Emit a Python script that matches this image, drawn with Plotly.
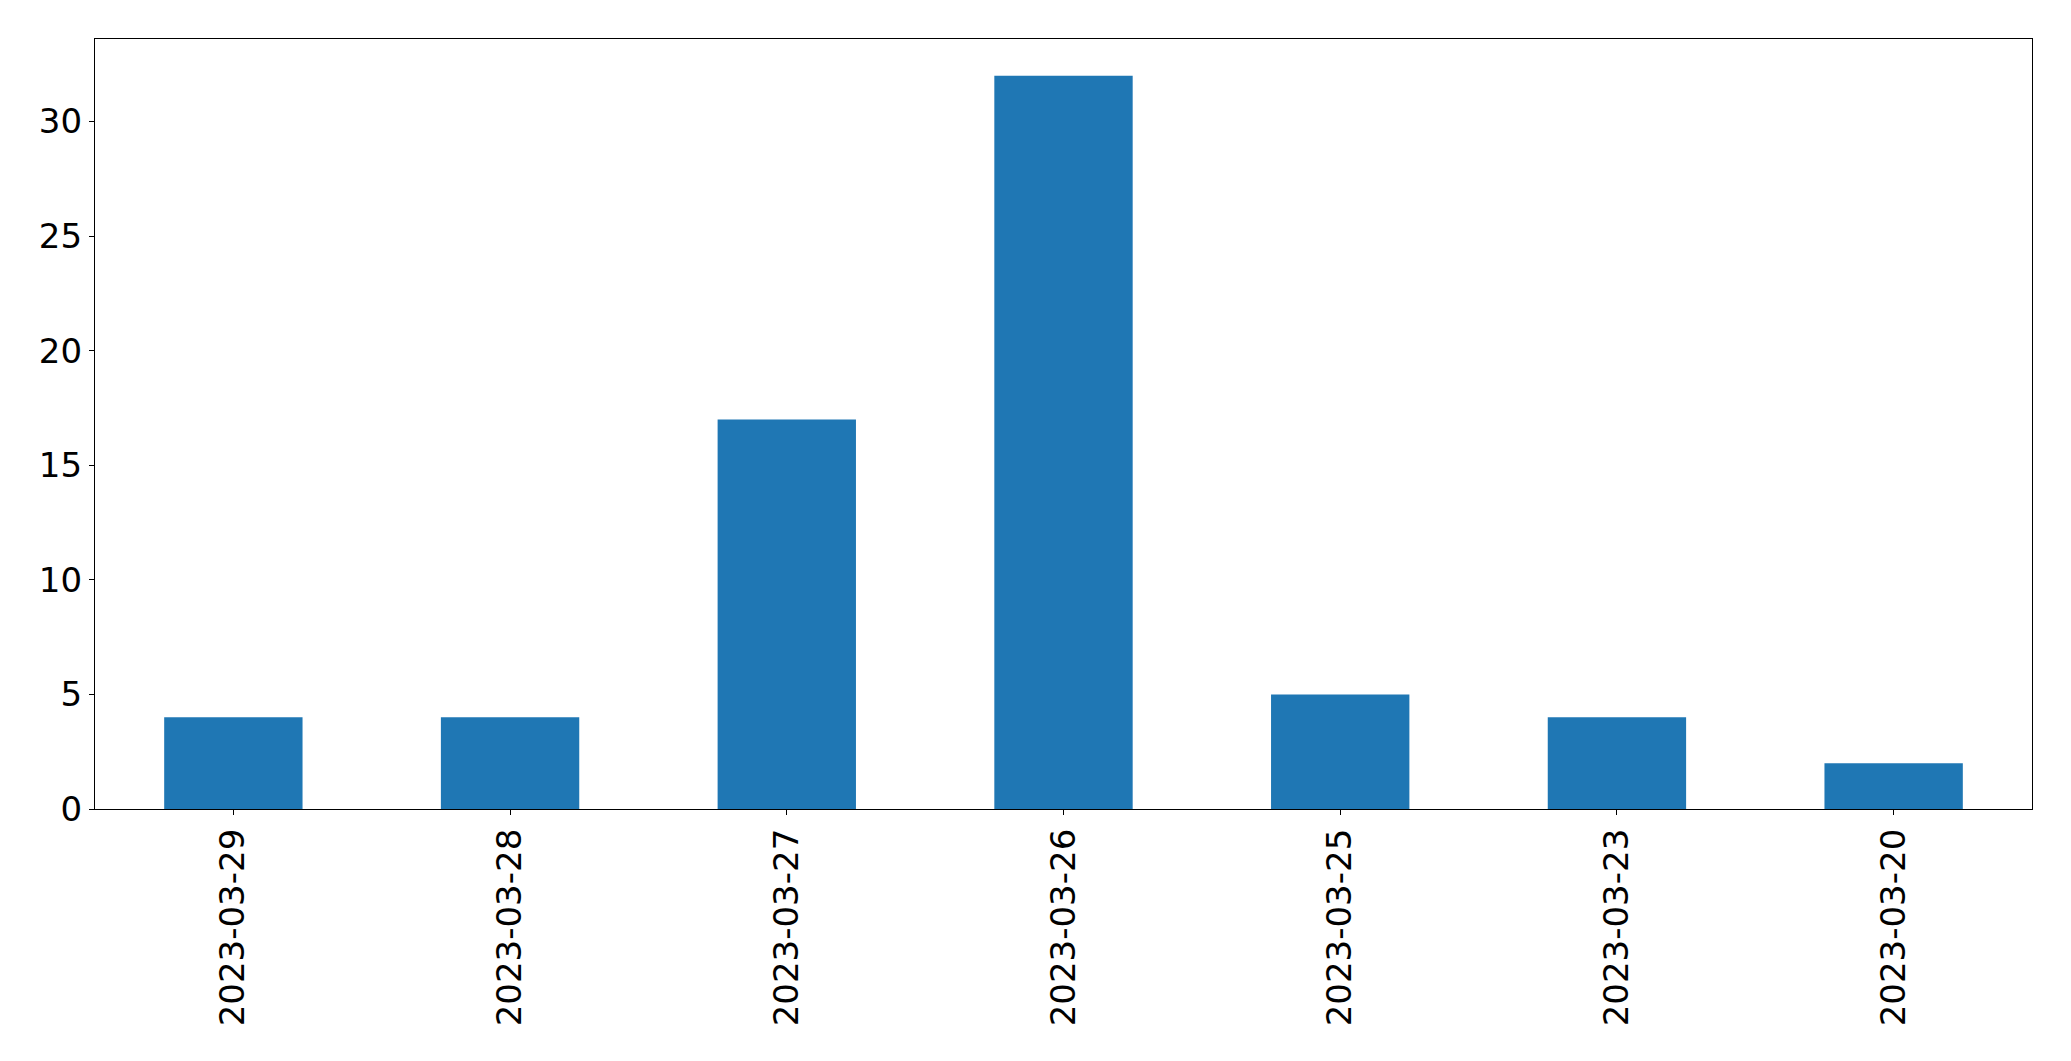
import plotly.graph_objects as go

categories = ["2023-03-29", "2023-03-28", "2023-03-27", "2023-03-26", "2023-03-25", "2023-03-23", "2023-03-20"]
values = [4, 4, 17, 32, 5, 4, 2]
y_ticks = [0, 5, 10, 15, 20, 25, 30]

fig = go.Figure(go.Bar(x=categories, y=values, width=0.5, marker=dict(color="#1f77b4", line=dict(width=0))))

# page body has an 8px default margin; compensate
OFF = 8
W, H = 2055, 1045
left, right, top, bottom = 95, 2032, 39, 809

axis_common = dict(showline=True, linecolor="black", linewidth=1.3, mirror=True,
                   ticks="outside", ticklen=5, tickwidth=1.3, tickcolor="black",
                   showgrid=False, zeroline=False,
                   tickfont=dict(family="DejaVu Sans", size=34, color="black"))

fig.update_layout(
    width=W, height=H,
    margin=dict(l=left - OFF, r=OFF + W - right, t=top - OFF, b=OFF + H - bottom, pad=0),
    plot_bgcolor="white", paper_bgcolor="white",
    showlegend=False,
    xaxis=dict(type="category", range=[-0.5, 6.5], tickangle=-90, **axis_common),
    yaxis=dict(range=[0, 33.6], tickvals=y_ticks, ticktext=[str(t) for t in y_ticks], **axis_common),
)

fig.write_html("out.html")
